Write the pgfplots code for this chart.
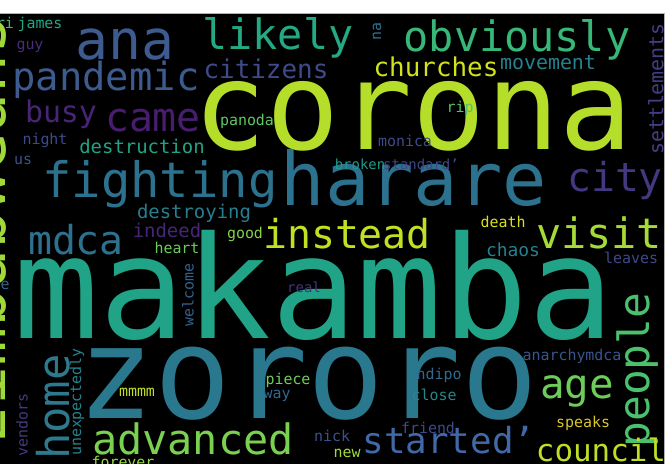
\documentclass[border=0pt]{standalone}
\usepackage{pgfplots}
\pgfplotsset{compat=1.18}
\usepackage{pgfplotstable}
\usepackage{fontspec}
\setmainfont{DejaVu Sans Mono}
\definecolor{cB5DE2B}{HTML}{B5DE2B}
\definecolor{c20A386}{HTML}{20A386}
\definecolor{c2A788E}{HTML}{2A788E}
\definecolor{c2C728E}{HTML}{2C728E}
\definecolor{c3D5B8E}{HTML}{3D5B8E}
\definecolor{c23A983}{HTML}{23A983}
\definecolor{c37B878}{HTML}{37B878}
\definecolor{c482576}{HTML}{482576}
\definecolor{c481D6F}{HTML}{481D6F}
\definecolor{c3E4A89}{HTML}{3E4A89}
\definecolor{cD2E21B}{HTML}{D2E21B}
\definecolor{c26828E}{HTML}{26828E}
\definecolor{c433E85}{HTML}{433E85}
\definecolor{c2D708E}{HTML}{2D708E}
\definecolor{c52C569}{HTML}{52C569}
\definecolor{c5EC962}{HTML}{5EC962}
\definecolor{c22A884}{HTML}{22A884}
\definecolor{c3FBC73}{HTML}{3FBC73}
\definecolor{c472D7B}{HTML}{472D7B}
\definecolor{c20A486}{HTML}{20A486}
\definecolor{c3B528B}{HTML}{3B528B}
\definecolor{c1F9A8A}{HTML}{1F9A8A}
\definecolor{c3F4788}{HTML}{3F4788}
\definecolor{c453781}{HTML}{453781}
\definecolor{cD8E219}{HTML}{D8E219}
\definecolor{cA5DB36}{HTML}{A5DB36}
\definecolor{c27808E}{HTML}{27808E}
\definecolor{cC2DF23}{HTML}{C2DF23}
\definecolor{c84D44B}{HTML}{84D44B}
\definecolor{c287D8E}{HTML}{287D8E}
\definecolor{c2D718E}{HTML}{2D718E}
\definecolor{c482677}{HTML}{482677}
\definecolor{c6DCD59}{HTML}{6DCD59}
\definecolor{c33638D}{HTML}{33638D}
\definecolor{c46337E}{HTML}{46337E}
\definecolor{c4AC16D}{HTML}{4AC16D}
\definecolor{c39568C}{HTML}{39568C}
\definecolor{cD9C72A}{HTML}{D9C72A}
\definecolor{cBDDF26}{HTML}{BDDF26}
\definecolor{c4169A8}{HTML}{4169A8}
\definecolor{c7AD151}{HTML}{7AD151}
\definecolor{c2E798E}{HTML}{2E798E}
\definecolor{c25838E}{HTML}{25838E}
\definecolor{c443983}{HTML}{443983}
\definecolor{c95D840}{HTML}{95D840}
\definecolor{c31688E}{HTML}{31688E}
\definecolor{cA0DA39}{HTML}{A0DA39}
\definecolor{c306A8E}{HTML}{306A8E}
\definecolor{c24878E}{HTML}{24878E}

\def\wordcolor#1/#2\relax{\textcolor{#1}{#2}}

\pgfplotstableread{
lab x y size rot
cB5DE2B/corona 413 116 122 0
c20A386/makamba 314 285 143 0
c2A788E/zororo 308 384 128 0
c2C728E/fighting 160 184 49 0
c2C728E/harare 414 178 74 0
c3D5B8E/ana 125 45 55 0
c3D5B8E/pandemic 106 80 39 0
c23A983/likely 278 38 42 0
c37B878/obviously 517 40 42 0
c482576/busy 61 114 30 0
c481D6F/came 153 121 40 0
c3E4A89/citizens 266 69 26 0
cD2E21B/churches 436 67 26 0
c26828E/movement 548 63 20 0
c433E85/settlements 656 89 20 90
c2D708E/na 377 32 15 90
c52C569/rip 460 108 15 0
c5EC962/panoda 247 121 15 0
c3E4A89/monica 405 141 15 0
c22A884/james 40 24 15 0
c3FBC73/ri 5 23 15 0
c472D7B/guy 30 47 15 0
c3E4A89/night 45 140 15 0
c20A486/destruction 142 146 19 0
c3B528B/us 23 160 15 0
c1F9A8A/broken 360 164 14 0
c3F4788/standard' 421 164 14 0
c453781/city 615 181 40 0
cD8E219/death 503 222 15 0
cA5DB36/visit 599 233 42 0
c27808E/chaos 513 250 18 0
c3E4A89/leaves 631 258 15 0
cC2DF23/instead 347 234 40 0
c84D44B/good 245 234 15 0
c287D8E/destroying 194 213 19 0
c2D718E/mdca 76 240 40 0
c482677/indeed 167 230 19 0
c6DCD59/heart 177 248 15 0
c33638D/welcome 188 295 15 90
c33638D/e 5 285 15 0
c46337E/real 304 287 14 0
c6DCD59/age 577 391 41 0
c4AC16D/people 638 370 43 90
c39568C/anarchymdca 572 356 15 0
cD9C72A/speaks 583 423 15 0
cBDDF26/council 601 450 31 0
c4169A8/started' 449 440 36 0
c7AD151/advanced 193 439 42 0
c2E798E/home 53 407 44 90
c25838E/unexpectedly 77 402 15 90
c443983/vendors 22 425 15 90
cBDDF26/mmmm 137 392 15 0
c95D840/forever 123 462 15 0
c6DCD59/piece 288 380 15 0
c31688E/way 277 396 15 0
c3B528B/nick 332 436 15 0
cA0DA39/new 347 453 15 0
c306A8E/ndipo 439 375 15 0
c24878E/close 434 395 15 0
c3E4A89/friend 428 428 15 0
cA0DA39/zimbabweans -19 230 65 90
}\words

\begin{document}
\begin{tikzpicture}
\begin{scope}
\clip (0,0) rectangle (664bp,451bp);
\fill[black] (0,0) rectangle (664bp,451bp);
\begin{axis}[at={(0,0)}, anchor=south west, scale only axis,
  width=671bp, height=464bp, xmin=0, xmax=671, ymin=0, ymax=464,
  y dir=reverse, hide axis, clip=false]
\addplot[draw=none, mark=none, point meta=explicit symbolic,
  nodes near coords={\expandafter\wordcolor\pgfplotspointmeta\relax},
  visualization depends on={\thisrow{size} \as \wsize},
  visualization depends on={\thisrow{rot} \as \wrot},
  every node near coord/.style={anchor=center, inner sep=0pt, outer sep=0pt,
    font=\fontsize{\wsize}{\wsize}\selectfont, rotate=\wrot}]
  table[x=x, y=y, meta=lab] {\words};
\end{axis}
\end{scope}
\draw[gray!60, line width=0.6bp] (0,451bp) -- (664bp,451bp) -- (664bp,0);
\pgfresetboundingbox
\path[use as bounding box] (0,0) rectangle (671bp,464bp);
\end{tikzpicture}
\end{document}
